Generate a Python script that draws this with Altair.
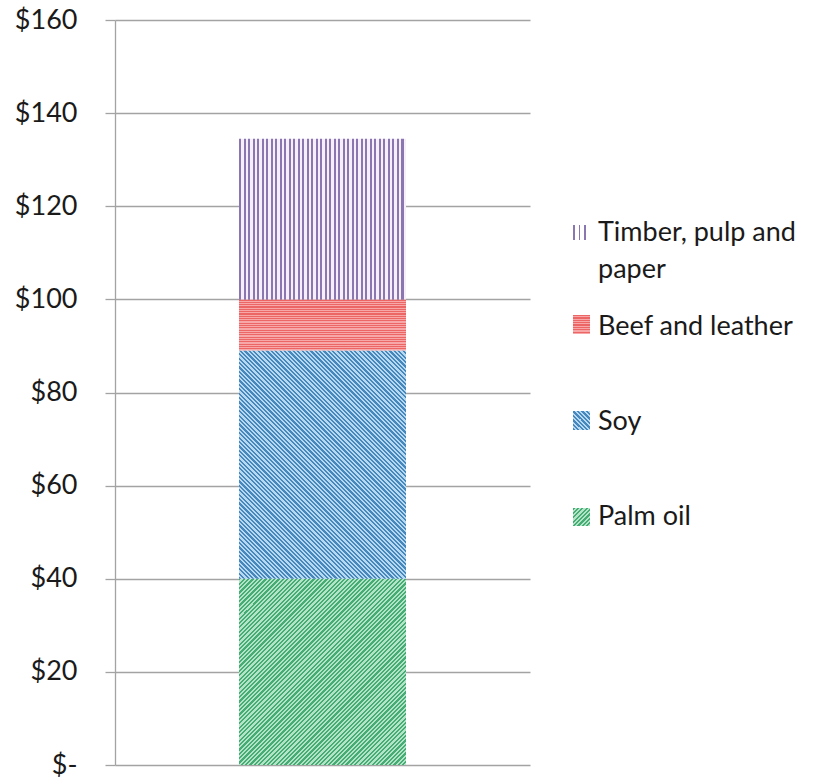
import math
import altair as alt
import pandas as pd

# ---- data ----
categories = ["Palm oil", "Soy", "Beef and leather", "Timber, pulp and paper"]
values = [40, 49, 11, 34.5]
y_ticks = [0, 20, 40, 60, 80, 100, 120, 140, 160]
legend_labels = ["Timber, pulp and\npaper", "Beef and leather", "Soy", "Palm oil"]

# ---- layout / style ----
PLOT_W, PLOT_H = 415, 745
Y_MAX = 160
BAR_W = 167
PAD_OUT = (PLOT_W / BAR_W - 1) / 2
FONT = "Lato"
GRID = "#a3a3a3"

df = pd.DataFrame({
    "group": ["All"] * len(categories),
    "category": categories,
    "value": values,
    "order": list(range(len(categories))),
})


def stops(dark, light, n, frac):
    out = []
    for i in range(n):
        a, b, c = i / n, (i + frac) / n, min(1.0, (i + 1) / n)
        out += [
            {"offset": a, "color": dark},
            {"offset": b, "color": dark},
            {"offset": b, "color": light},
            {"offset": c, "color": light},
        ]
    return out


def vlines(dark, light, w, period, frac=0.45):
    n = max(1, round(w / period))
    return {"gradient": "linear", "x1": 0, "y1": 0, "x2": 1, "y2": 0,
            "stops": stops(dark, light, n, frac)}


def hlines(dark, light, h, period, frac=0.5):
    n = max(1, round(h / period))
    return {"gradient": "linear", "x1": 0, "y1": 0, "x2": 0, "y2": 1,
            "stops": stops(dark, light, n, frac)}


def diag(dark, light, w, h, period, back, frac=0.5):
    a = (w + h) / (w * w + h * h)
    n = max(1, round((w + h) / math.sqrt(2) / period))
    if back:  # "\" lines
        g = {"x1": 0, "y1": 1, "x2": a * w, "y2": 1 - a * h}
    else:     # "/" lines
        g = {"x1": 0, "y1": 0, "x2": a * w, "y2": a * h}
    g.update({"gradient": "linear", "stops": stops(dark, light, n, frac)})
    return g


px_per_unit = PLOT_H / Y_MAX
heights = [v * px_per_unit for v in values]

COL = {
    "Palm oil": ("#45ad74", "#b3e4c7"),
    "Soy": ("#4688bd", "#b6d9ef"),
    "Beef and leather": ("#ec6666", "#f7a7a7"),
    "Timber, pulp and paper": ("#8a77b2", "#f6eff9"),
}

fills = {
    "Palm oil": diag(*COL["Palm oil"], BAR_W, heights[0], 3.1, back=False),
    "Soy": diag(*COL["Soy"], BAR_W, heights[1], 3.1, back=True),
    "Beef and leather": hlines(*COL["Beef and leather"], heights[2], 2.3),
    "Timber, pulp and paper": vlines(*COL["Timber, pulp and paper"], BAR_W, 4.5),
}

base = alt.Chart(df).transform_stack(
    stack="value", groupby=["group"], as_=["y0", "y1"],
    sort=[alt.SortField("order", order="ascending")],
)

x_enc = alt.X("group:N", axis=None,
              scale=alt.Scale(paddingInner=0, paddingOuter=PAD_OUT))

y_axis = alt.Axis(
    values=y_ticks, title=None, grid=True, gridColor=GRID, gridWidth=1.3,
    domain=True, domainColor=GRID, domainWidth=1.3,
    ticks=True, tickColor=GRID, tickSize=10, tickWidth=1.3,
    labelFont=FONT, labelFontSize=27, labelColor="#1a1a1a",
    labelPadding=28, labelExpr="datum.value == 0 ? '$-' : '$' + datum.value",
)

layers = []
for i, cat in enumerate(categories):
    layers.append(
        base.transform_filter(alt.datum.category == cat)
        .mark_bar(fill=fills[cat])
        .encode(
            x=x_enc,
            y=alt.Y("y0:Q", scale=alt.Scale(domain=[0, Y_MAX]), axis=y_axis),
            y2="y1:Q",
        )
    )

# ---- manual legend (pattern swatches + labels) ----
one = alt.Chart(pd.DataFrame({"k": [0]}))
OX, OY = 115, 20
SX0, SX1 = 573, 590
TX = 598
leg = [
    # label, swatch y0, y1, text baseline, fill
    (legend_labels[0], 225, 240, 241, vlines("#8a77b2", "#ffffff", 17, 5.7, 0.3)),
    (legend_labels[1], 315, 334, 335, hlines("#ec6666", "#f7a7a7", 19, 2.3)),
    (legend_labels[2], 411, 430, 430, diag("#4688bd", "#b6d9ef", 17, 19, 3.1, back=True)),
    (legend_labels[3], 508, 526, 525, diag("#45ad74", "#b3e4c7", 17, 18, 3.1, back=False)),
]
for label, y0, y1, tb, fill in leg:
    layers.append(
        one.mark_rect(fill=fill).encode(
            x=alt.value(SX0 - OX), x2=alt.value(SX1 - OX),
            y=alt.value(y0 - OY), y2=alt.value(y1 - OY),
        )
    )
    layers.append(
        one.mark_text(
            align="left", baseline="alphabetic", font=FONT, fontSize=27,
            color="#1a1a1a", lineBreak="\n", lineHeight=37,
        ).encode(
            x=alt.value(TX - OX), y=alt.value(tb - OY), text=alt.value(label)
        )
    )

chart = alt.layer(*layers).properties(
    width=PLOT_W, height=PLOT_H,
    autosize=alt.AutoSizeParams(type="none"),
    padding={"left": OX, "top": OY, "right": 828 - OX - PLOT_W, "bottom": 784 - OY - PLOT_H},
    background="white",
).configure_view(stroke=None)

chart.save("out.html", embed_options={"renderer": "svg", "actions": False})
